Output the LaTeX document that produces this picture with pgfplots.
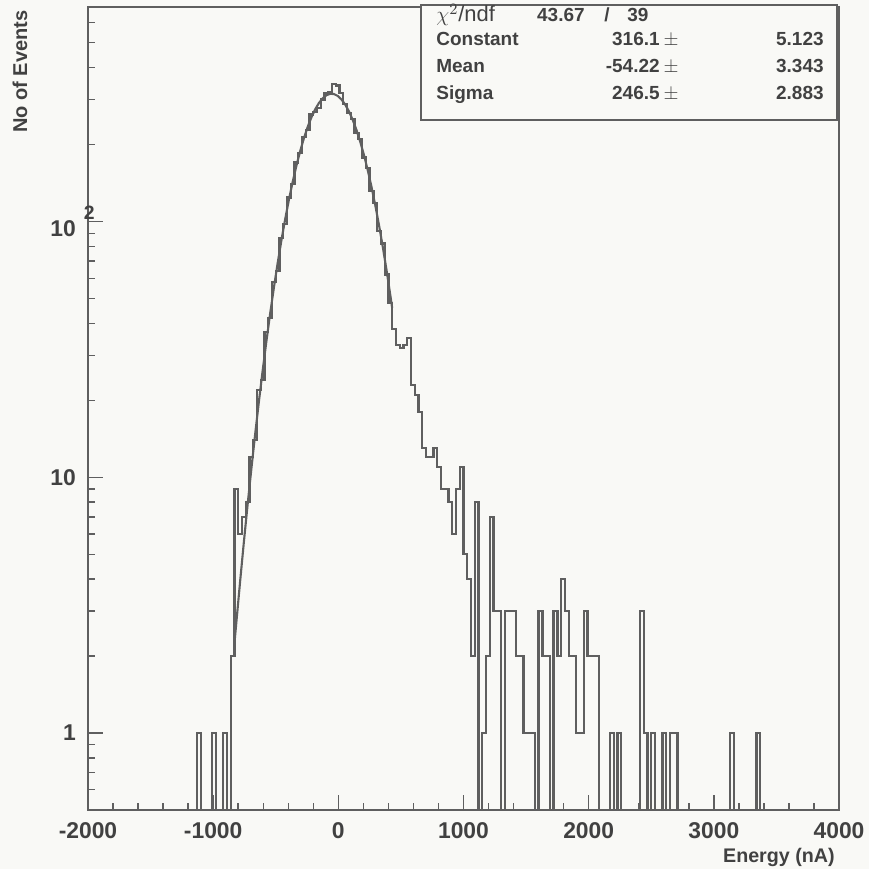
\documentclass[border=0pt]{standalone}
\usepackage{fontspec}
\setmainfont{Liberation Sans}
\usepackage{pgfplots}
\usepackage{pgfplotstable}
\pgfplotsset{compat=1.18}

\definecolor{bg}{RGB}{249,249,246}
\definecolor{ln}{RGB}{95,95,95}
\definecolor{txt}{RGB}{65,65,65}

% histogram: left bin edge, entries (0.1 = empty bin, below ymin)
\pgfplotstableread{
x y
-2000 0.1
-1130 1
-1100 0.1
-1010 1
-980 0.1
-920 1
-890 0.1
-860 2
-830 9
-800 6
-770 7
-740 8
-710 12
-680 14
-650 22
-620 24
-590 37
-560 42
-530 58
-500 64
-470 86
-440 98
-410 124
-380 140
-350 170
-320 185
-290 214
-260 228
-230 262
-200 268
-170 278
-140 300
-110 318
-80 322
-50 345
-20 340
10 318
40 288
70 265
100 252
130 222
160 210
190 178
220 162
250 132
280 118
310 92
340 82
370 62
400 48
430 38
460 33
490 32
520 33
550 35
580 23
610 21
640 18
670 13
700 12
730 12
760 13
790 11
820 9
850 9
880 8
910 6
940 9
970 11
1000 5
1030 4
1060 2
1090 8
1120 0.1
1150 1
1180 2
1210 7
1240 3
1270 3
1300 0.1
1330 3
1360 3
1390 3
1420 2
1450 2
1480 1
1510 1
1540 1
1570 0.1
1600 3
1630 2
1660 2
1690 0.1
1720 3
1750 2
1780 4
1810 3
1840 2
1870 2
1900 1
1930 1
1960 3
1990 2
2020 2
2050 2
2080 0.1
2170 1
2200 0.1
2230 1
2260 0.1
2410 3
2440 1
2470 0.1
2500 1
2530 0.1
2590 1
2620 0.1
2650 1
2680 1
2710 0.1
3130 1
3160 0.1
3340 1
3370 0.1
4000 0.1
}\histo

% gaussian fit, evaluated at bin centres
\pgfplotstableread{
x y
-830 2.24
-815 2.70
-785 3.90
-755 5.56
-725 7.80
-695 10.77
-665 14.67
-635 19.70
-605 26.04
-575 33.93
-545 43.56
-515 55.09
-485 68.65
-455 84.29
-425 101.98
-395 121.55
-365 142.77
-335 165.21
-305 188.40
-275 211.65
-245 234.29
-215 255.53
-185 274.58
-155 290.75
-125 303.34
-95 311.80
-65 315.80
-35 315.14
-5 309.86
25 300.19
55 286.54
85 269.50
115 249.74
145 228.02
175 205.14
205 181.84
235 158.82
265 136.67
295 115.88
325 96.80
355 79.68
385 64.63
415 51.65
430 45.91
}\fit

\begin{document}
\begin{tikzpicture}
\path[use as bounding box, fill=bg] (-1.76cm,-1.18cm) rectangle (15.62cm,16.20cm);
\begin{axis}[
  at={(0,0)}, anchor=south west,
  width=15.02cm, height=16.06cm, scale only axis,
  xmin=-2000, xmax=4000, ymin=0.5, ymax=690,
  ymode=log,
  axis line style={ln, line width=0.8pt},
  tick style={ln, line width=0.8pt},
  tick pos=left,
  major tick length=0.3cm, minor tick length=0.14cm,
  xtick={-2000,-1000,...,4000},
  xticklabels={-2000,-1000,0,1000,2000,3000,4000},
  minor x tick num=4,
  ytick={1,10,100},
  minor ytick={0.5,0.6,0.7,0.8,0.9,2,3,4,5,6,7,8,9,20,30,40,50,60,70,80,90,200,300,400,500,600},
  yticklabels={1,10,10\makebox[0pt][l]{\raisebox{1.4ex}{\hspace{0.16cm}\fontsize{11}{11}\selectfont 2}}},
  ticklabel style={font=\fontsize{13}{15}\selectfont\bfseries, text=txt},
  xticklabel style={yshift=-0.12cm},
  yticklabel style={xshift=-0.12cm},
]
\addplot[const plot, ln, line width=1.3pt] table {\histo};
\addplot[ln, line width=1.2pt] table {\fit};
\end{axis}

% axis titles
\node[rotate=90, anchor=east, inner sep=0pt, text=txt, font=\fontsize{11.4}{13}\selectfont\bfseries]
  at (-1.36,16.00) {No of Events};
\node[anchor=east, inner sep=0pt, text=txt, font=\fontsize{11.2}{13}\selectfont\bfseries]
  at (14.94,-0.94) {Energy (nA)};

% fit statistics box
\draw[ln, line width=0.8pt, fill=bg] (6.66,13.80) rectangle (14.98,16.10);
\begin{scope}[every node/.style={text=txt, inner sep=0pt, font=\fontsize{10.8}{12}\selectfont\bfseries}]
\node[anchor=base west, font=\fontsize{12.5}{13}\selectfont] at (6.96,15.76) {$\chi^{2}$/ndf};
\node[anchor=base east] at (9.94,15.76) {43.67};
\node[anchor=base] at (10.38,15.76) {/};
\node[anchor=base west] at (10.78,15.76) {39};
\node[anchor=base west] at (6.96,15.28) {Constant};
\node[anchor=base east] at (11.44,15.28) {316.1};
\node[anchor=base] at (11.66,15.28) {$\pm$};
\node[anchor=base east] at (14.72,15.28) {5.123};
\node[anchor=base west] at (6.96,14.74) {Mean};
\node[anchor=base east] at (11.44,14.74) {-54.22};
\node[anchor=base] at (11.66,14.74) {$\pm$};
\node[anchor=base east] at (14.72,14.74) {3.343};
\node[anchor=base west] at (6.96,14.20) {Sigma};
\node[anchor=base east] at (11.44,14.20) {246.5};
\node[anchor=base] at (11.66,14.20) {$\pm$};
\node[anchor=base east] at (14.72,14.20) {2.883};
\end{scope}
\end{tikzpicture}
\end{document}
